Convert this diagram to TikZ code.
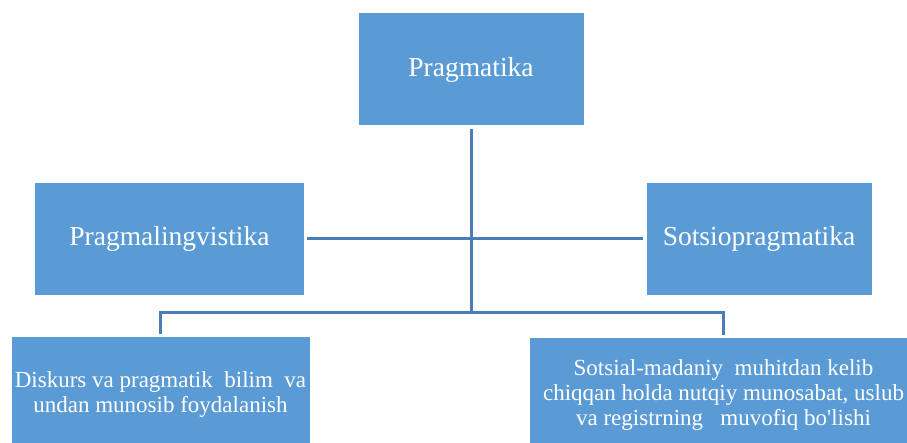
\documentclass[tikz,border=0pt]{standalone}
\usepackage{fontspec}
\setmainfont{Liberation Serif}
\definecolor{boxblue}{HTML}{5B9BD5}
\definecolor{lineblue}{HTML}{4A7EBB}
\tikzset{
	topic/.style={fill=boxblue, text=white, inner sep=0pt, align=center},
	bigtopic/.style={topic, font=\fontsize{27.5}{32}\selectfont},
	smalltopic/.style={topic, font=\fontsize{23}{25}\selectfont},
	link/.style={lineblue, line width=3pt}
}
\begin{document}
\begin{tikzpicture}[x=1pt, y=-1pt]
		% Frame
		\useasboundingbox (0,0) rectangle (907,443);
		\fill[white] (0,0) rectangle (907,443);

		% Draw boxes
		\node[bigtopic, minimum width=225pt, minimum height=112pt] (prag) at (471,69.5) {Pragmatika};
		\node[bigtopic, minimum width=269pt, minimum height=112pt] (lingv) at (169.5,239) {Pragmalingvistika};
		\node[bigtopic, minimum width=225pt, minimum height=112pt] (sotsio) at (759,239) {Sotsiopragmatika};
		\node[smalltopic, minimum width=298pt, minimum height=116pt] (diskurs) at (160.5,395) {Diskurs va pragmatik\ \ bilim\ \ va\\undan munosib foydalanish};
		\node[smalltopic, minimum width=387pt, minimum height=114pt] (sotsial) at (723.5,395) {Sotsial-madaniy\ \ muhitdan kelib\\chiqqan holda nutqiy\ munosabat, uslub\\va registrning\ \ \ muvofiq bo\textquotesingle lishi};

		% Draw links
		\coordinate (hub) at (471,312.5);
		\draw[link] ([yshift=-3pt]prag.south) -- (hub);
		\draw[link] ([xshift=3pt]lingv.east) -- ([xshift=-3pt]sotsio.west);
		\draw[link] (hub) -| ([yshift=3pt]diskurs.north);
		\draw[link] (hub) -| ([yshift=3pt]sotsial.north);
	\end{tikzpicture}
\end{document}
